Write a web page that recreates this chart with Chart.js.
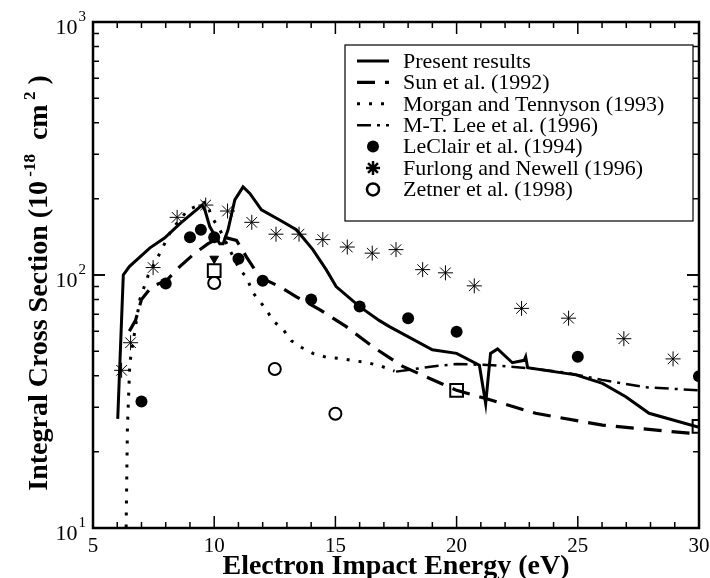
<!DOCTYPE html>
<html>
<head>
<meta charset="utf-8">
<script src="https://cdn.jsdelivr.net/npm/chart.js@4/dist/chart.umd.min.js"></script>
<style>
  body { margin: 0; background: #fff; }
  #pudlo { width: 710px; height: 578px; position: relative; }
</style>
</head>
<body>
<div id="pudlo"><canvas id="wykres"></canvas></div>
<script>
// --- dane ---
const energiaObecne = [6.02, 6.25, 6.5, 7.35, 7.95, 8.6, 9.5, 9.62, 9.82, 10.23, 10.37, 10.57, 10.85, 11.19, 11.47, 11.95, 12.7, 13.39, 14.07, 14.62, 15.03, 16.0, 16.82, 17.23, 19.0, 20.0, 20.94, 21.2, 21.4, 21.69, 22.3, 22.79, 22.85, 22.93, 24.92, 26.02, 26.98, 27.94, 30.0];
const przekrojObecne = [27, 100, 108, 128, 140, 160, 189, 180, 155, 133, 133, 151, 198, 223, 210, 181, 165, 151, 126, 105, 90, 75, 66, 62.5, 50.6, 49, 44, 31, 49, 51, 45, 46, 47.5, 43, 40.3, 37.3, 33, 28.4, 25];

const energiaSun = [6.5, 6.75, 7.0, 7.42, 8.03, 8.58, 9.2, 9.75, 10.3, 10.92, 11.33, 11.88, 12.7, 13.39, 14.35, 15.45, 16.55, 17.78, 20.0, 21.2, 23.26, 26.02, 29.6, 30.0];
const przekrojSun = [60, 66, 80, 90, 95, 108, 122, 133, 142, 137, 118, 98, 90, 82, 73, 62.5, 52, 43.5, 35, 32.5, 28.4, 25.5, 23.7, 23.6];

const energiaMorgan = [6.36, 6.42, 6.52, 6.93, 7.28, 7.76, 8.24, 8.92, 9.68, 9.89, 10.23, 10.71, 11.05, 11.33, 11.6, 12.15, 12.42, 12.84, 13.18, 13.59, 14.07, 14.62, 15.17, 15.79, 16.34, 16.89, 17.44];
const przekrojMorgan = [9, 25, 45, 80, 100, 122, 151, 181, 195, 170, 151, 122, 105, 98, 85, 73, 66, 61, 55, 51.8, 49, 47.3, 46.8, 45.8, 45, 43.6, 41.7];

const energiaLee = [17.5, 19.0, 20.0, 21.5, 23.0, 24.6, 26.0, 27.8, 30.0];
const przekrojLee = [41.5, 43.5, 44.5, 44, 42.8, 41, 38.5, 36, 35];

const energiaLeClair = [7, 8, 9, 9.45, 10, 11, 12, 14, 16, 18, 20, 25, 30];
const przekrojLeClair = [31.6, 92.6, 141, 151, 141, 116, 95, 80, 75, 67.5, 59.7, 47.5, 39.8];

const energiaFurlong = [6.18, 6.55, 7.48, 8.47, 9.65, 10.55, 11.55, 12.55, 13.5, 14.48, 15.49, 16.52, 17.5, 18.6, 19.54, 20.73, 22.68, 24.62, 26.9, 28.93];
const przekrojFurlong = [42, 54, 107, 169, 189, 179, 161.5, 145, 145, 138, 129, 122, 126, 105, 102, 90.6, 73.8, 67.5, 56, 46.6];

const energiaZetner = [10, 12.5, 15];
const przekrojZetner = [93, 42.5, 28.3];

const energiaKwadraty = [10, 20, 30];
const przekrojKwadraty = [104, 35, 25.2];

const energiaStrzalka = [10];
const przekrojStrzalka = [116];

const etykietyX = [5, 10, 15, 20, 25, 30];
const wykladnikiY = [1, 2, 3];

const legenda = [
    { tekst: 'Present results', ds: 0 },
    { tekst: 'Sun et al. (1992)', ds: 1 },
    { tekst: 'Morgan and Tennyson (1993)', ds: 2 },
    { tekst: 'M-T. Lee et al. (1996)', ds: 3 },
    { tekst: 'LeClair et al. (1994)', ds: 4 },
    { tekst: 'Furlong and Newell (1996)', ds: 5 },
    { tekst: 'Zetner et al. (1998)', ds: 6 }
];

function punkty(xs, ys) {
    return xs.map((x, i) => ({ x: x, y: ys[i] }));
}

const SZERYF = '"Liberation Serif", "Times New Roman", serif';

function linia(etykieta, xs, ys, grubosc, kreski) {
    return {
        label: etykieta,
        data: punkty(xs, ys),
        borderColor: '#000',
        borderWidth: grubosc,
        borderDash: kreski,
        borderCapStyle: 'butt',
        pointRadius: 0,
        tension: 0,
        fill: false
    };
}

function znaczniki(etykieta, xs, ys, styl, promien, tlo, ramka, obrot) {
    return {
        label: etykieta,
        data: punkty(xs, ys),
        showLine: false,
        pointStyle: styl,
        pointRadius: promien,
        pointBackgroundColor: tlo,
        pointBorderColor: '#000',
        pointBorderWidth: ramka,
        pointRotation: obrot || 0
    };
}

const zestawy = [
    linia('Present results', energiaObecne, przekrojObecne, 3, []),
    linia('Sun et al. (1992)', energiaSun, przekrojSun, 3.2, [18, 10]),
    linia('Morgan and Tennyson (1993)', energiaMorgan, przekrojMorgan, 3, [3, 9]),
    linia('M-T. Lee et al. (1996)', energiaLee, przekrojLee, 2.5, [14, 6, 3, 6]),
    znaczniki('LeClair et al. (1994)', energiaLeClair, przekrojLeClair, 'circle', 6, '#000', 0),
    znaczniki('Furlong and Newell (1996)', energiaFurlong, przekrojFurlong, 'star', 7.5, '#000', 1),
    znaczniki('Zetner et al. (1998)', energiaZetner, przekrojZetner, 'circle', 6, '#fff', 2),
    znaczniki('', energiaKwadraty, przekrojKwadraty, 'rect', 9, 'rgba(255,255,255,0)', 2),
    znaczniki('', energiaStrzalka, przekrojStrzalka, 'triangle', 5, '#000', 1, 180)
];

// ramka, znaczki osi, opisy i legenda
const dorysuj = {
    id: 'dorysuj',
    afterDraw(chart) {
        const ctx = chart.ctx;
        const a = chart.chartArea;
        const sx = chart.scales.x;
        const sy = chart.scales.y;
        ctx.save();
        ctx.strokeStyle = '#000';
        ctx.fillStyle = '#000';

        // znaczki na osi X (dół i góra, do środka)
        ctx.lineWidth = 1.5;
        for (let v = 5; v <= 30; v++) {
            const px = sx.getPixelForValue(v);
            const dl = v % 5 === 0 ? 12 : 6;
            ctx.beginPath();
            ctx.moveTo(px, a.bottom); ctx.lineTo(px, a.bottom - dl);
            ctx.moveTo(px, a.top); ctx.lineTo(px, a.top + dl);
            ctx.stroke();
        }
        // znaczki na osi Y (lewa i prawa)
        for (let e = 1; e <= 2; e++) {
            for (let m = 1; m <= 10; m++) {
                const py = sy.getPixelForValue(m * Math.pow(10, e));
                const dl = (m === 1 || m === 10) ? 12 : 6;
                ctx.beginPath();
                ctx.moveTo(a.left, py); ctx.lineTo(a.left + dl, py);
                ctx.moveTo(a.right, py); ctx.lineTo(a.right - dl, py);
                ctx.stroke();
            }
        }

        // ramka
        ctx.lineWidth = 2.5;
        ctx.strokeRect(a.left, a.top, a.right - a.left, a.bottom - a.top);

        // opisy osi X
        ctx.font = '21px ' + SZERYF;
        ctx.textAlign = 'center';
        ctx.textBaseline = 'alphabetic';
        etykietyX.forEach(v => {
            ctx.fillText(String(v), sx.getPixelForValue(v), a.bottom + 24);
        });

        // opisy osi Y: 10 z wykładnikiem
        wykladnikiY.forEach(e => {
            const py = sy.getPixelForValue(Math.pow(10, e));
            ctx.font = '15px ' + SZERYF;
            const wSup = ctx.measureText(String(e)).width;
            ctx.textAlign = 'left';
            const xSup = a.left - 7 - wSup;
            ctx.fillText(String(e), xSup, py - 1);
            ctx.font = '22px ' + SZERYF;
            ctx.textAlign = 'right';
            ctx.fillText('10', xSup - 1, py + 12);
        });

        // tytuł osi X
        ctx.font = 'bold 28px ' + SZERYF;
        ctx.textAlign = 'center';
        ctx.fillText('Electron Impact Energy (eV)', (a.left + a.right) / 2, a.bottom + 46);

        // tytuł osi Y z indeksami górnymi
        const czesci = [
            { t: 'Integral Cross Section (10', f: 'bold 28px ', dy: 0 },
            { t: ' -18', f: 'bold 17px ', dy: -12 },
            { t: '  cm', f: 'bold 28px ', dy: 0 },
            { t: ' 2', f: 'bold 17px ', dy: -12 },
            { t: ' )', f: 'bold 28px ', dy: 0 }
        ];
        let calosc = 0;
        czesci.forEach(c => { ctx.font = c.f + SZERYF; c.w = ctx.measureText(c.t).width; calosc += c.w; });
        ctx.translate(47, (a.top + a.bottom) / 2 + 8);
        ctx.rotate(-Math.PI / 2);
        ctx.textAlign = 'left';
        let kx = -calosc / 2;
        czesci.forEach(c => {
            ctx.font = c.f + SZERYF;
            ctx.fillText(c.t, kx, c.dy);
            kx += c.w;
        });
        ctx.setTransform(1, 0, 0, 1, 0, 0);
        ctx.restore();

        // legenda
        ctx.save();
        const lx = 345, ly = 45, lw = 348, lh = 176;
        ctx.fillStyle = '#fff';
        ctx.fillRect(lx, ly, lw, lh);
        ctx.strokeStyle = '#000';
        ctx.lineWidth = 1.2;
        ctx.strokeRect(lx, ly, lw, lh);
        legenda.forEach((w, i) => {
            const ds = zestawy[w.ds];
            const wy = 61 + i * 21.4;
            ctx.strokeStyle = '#000';
            ctx.fillStyle = '#000';
            if (ds.showLine === false) {
                ctx.fillStyle = ds.pointBackgroundColor;
                Chart.helpers.drawPoint(ctx, {
                    pointStyle: ds.pointStyle,
                    radius: ds.pointStyle === 'star' ? 7 : ds.pointRadius,
                    rotation: 0,
                    borderWidth: ds.pointBorderWidth
                }, 373, wy);
            } else {
                ctx.lineWidth = ds.borderWidth;
                ctx.setLineDash(ds.borderDash);
                ctx.lineCap = 'butt';
                ctx.beginPath();
                ctx.moveTo(357, wy); ctx.lineTo(389, wy);
                ctx.stroke();
                ctx.setLineDash([]);
            }
            ctx.fillStyle = '#000';
            ctx.font = '22px ' + SZERYF;
            ctx.textAlign = 'left';
            ctx.textBaseline = 'middle';
            ctx.fillText(w.tekst, 403, wy + 1);
        });
        ctx.restore();
    }
};

new Chart(document.getElementById('wykres'), {
    type: 'line',
    data: { datasets: zestawy },
    options: {
        responsive: true,
        maintainAspectRatio: false,
        animation: false,
        events: [],
        layout: { padding: { left: 93, right: 10, top: 22, bottom: 50 } },
        scales: {
            x: { type: 'linear', min: 5, max: 30, display: false },
            y: { type: 'logarithmic', min: 10, max: 1000, display: false }
        },
        plugins: {
            legend: { display: false },
            tooltip: { enabled: false }
        }
    },
    plugins: [dorysuj]
});
</script>
</body>
</html>
